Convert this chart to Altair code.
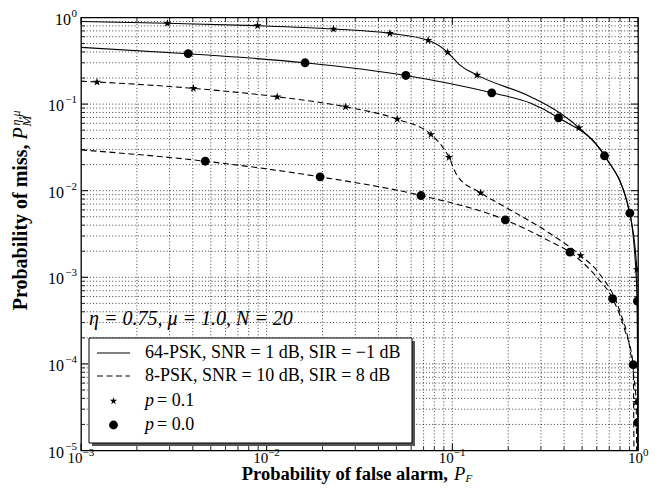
import altair as alt
import pandas as pd

# ---------------- data ----------------
# 64-PSK, SNR = 1 dB, SIR = -1 dB, p = 0.1 (solid line, stars)
s64_p1_line_x = [0.001, 0.00292, 0.00893, 0.0229, 0.0461, 0.0741, 0.0944, 0.11, 0.136, 0.265, 0.371, 0.481, 0.66, 0.90, 0.986, 0.995, 0.998]
s64_p1_line_y = [0.90, 0.857, 0.804, 0.736, 0.656, 0.545, 0.396, 0.282, 0.216, 0.121, 0.0815, 0.0532, 0.0255, 0.0056, 0.00123, 0.0001, 0.00001]
s64_p1_mark_x = [0.00292, 0.00893, 0.0229, 0.0461, 0.0741, 0.0944, 0.136, 0.481, 0.986]
s64_p1_mark_y = [0.857, 0.804, 0.736, 0.656, 0.545, 0.396, 0.216, 0.0532, 0.00123]

# 64-PSK, p = 0.0 (solid line, circles)
s64_p0_line_x = [0.001, 0.00378, 0.0161, 0.0562, 0.163, 0.265, 0.373, 0.66, 0.904, 0.993, 0.998, 0.9985]
s64_p0_line_y = [0.452, 0.382, 0.300, 0.214, 0.135, 0.102, 0.0694, 0.0253, 0.0055, 0.00053, 0.000021, 0.00001]
s64_p0_mark_x = [0.00378, 0.0161, 0.0562, 0.163, 0.373, 0.66, 0.904, 0.993, 0.998]
s64_p0_mark_y = [0.382, 0.300, 0.214, 0.135, 0.0694, 0.0253, 0.0055, 0.00053, 0.000021]

# 8-PSK, SNR = 10 dB, SIR = 8 dB, p = 0.1 (dashed line, stars)
s8_p1_line_x = [0.001, 0.00122, 0.00403, 0.0114, 0.0266, 0.0505, 0.0767, 0.096, 0.106, 0.142, 0.197, 0.336, 0.491, 0.62, 0.80, 0.90, 0.95, 0.978, 0.983]
s8_p1_line_y = [0.184, 0.180, 0.152, 0.1215, 0.093, 0.067, 0.0446, 0.0242, 0.0150, 0.00944, 0.0063, 0.0032, 0.00178, 0.0011, 0.0004, 0.00016, 0.00007, 0.000036, 0.00001]
s8_p1_mark_x = [0.00122, 0.00403, 0.0114, 0.0266, 0.0505, 0.0767, 0.096, 0.142, 0.491, 0.978]
s8_p1_mark_y = [0.180, 0.152, 0.1215, 0.093, 0.067, 0.0446, 0.0242, 0.00944, 0.00178, 0.000036]

# 8-PSK, p = 0.0 (dashed line, circles)
s8_p0_line_x = [0.001, 0.00467, 0.0194, 0.0678, 0.193, 0.336, 0.43, 0.60, 0.73, 0.85, 0.942, 0.951]
s8_p0_line_y = [0.0296, 0.0219, 0.01445, 0.0088, 0.0046, 0.0026, 0.00195, 0.0010, 0.000567, 0.000244, 0.000098, 0.00001]
s8_p0_mark_x = [0.00467, 0.0194, 0.0678, 0.193, 0.43, 0.73, 0.942]
s8_p0_mark_y = [0.0219, 0.01445, 0.0088, 0.0046, 0.00195, 0.000567, 0.000098]

legend_labels = ["64-PSK, SNR = 1 dB, SIR = \u22121 dB", "8-PSK, SNR = 10 dB, SIR = 8 dB"]
marker_labels = ["= 0.1", "= 0.0"]
annotation = "\u03b7 = 0.75, \u03bc = 1.0, N = 20"

x_major = [0.001, 0.01, 0.1, 1.0]
x_exp = ["\u22123", "\u22122", "\u22121", "0"]
y_major = [1e-5, 1e-4, 1e-3, 1e-2, 1e-1, 1.0]
y_exp = ["\u22125", "\u22124", "\u22123", "\u22122", "\u22121", "0"]
x_minor = [k * 10.0 ** e for e in (-3, -2, -1) for k in range(2, 10)]
y_minor = [k * 10.0 ** e for e in (-5, -4, -3, -2, -1) for k in range(2, 10)]

# ---------------- layout ----------------
W, H = 557, 433
FONT = "Liberation Serif"
xs = alt.Scale(type="log", domain=[0.001, 1.0], nice=False)
ys = alt.Scale(type="log", domain=[1e-5, 1.0], nice=False)
STAR = "M0,-1L0.2245,-0.309L0.951,-0.309L0.363,0.118L0.588,0.809L0,0.382L-0.588,0.809L-0.363,0.118L-0.951,-0.309L-0.2245,-0.309Z"


def curve_df(name, xv, yv):
    return pd.DataFrame({"x": xv, "y": yv, "curve": name, "i": range(len(xv))})


solid_df = pd.concat([curve_df("a", s64_p1_line_x, s64_p1_line_y), curve_df("b", s64_p0_line_x, s64_p0_line_y)])
dashed_df = pd.concat([curve_df("c", s8_p1_line_x, s8_p1_line_y), curve_df("d", s8_p0_line_x, s8_p0_line_y)])
stars_df = pd.concat([curve_df("a", s64_p1_mark_x, s64_p1_mark_y), curve_df("c", s8_p1_mark_x, s8_p1_mark_y)])
circles_df = pd.concat([curve_df("b", s64_p0_mark_x, s64_p0_mark_y), curve_df("d", s8_p0_mark_x, s8_p0_mark_y)])

X = lambda f="x": alt.X(f"{f}:Q", scale=xs, axis=None)
Y = lambda f="y": alt.Y(f"{f}:Q", scale=ys, axis=None)

layers = []

# grid (dotted, major + minor)
gx = pd.DataFrame({"v": x_major[1:-1] + x_minor})
gy = pd.DataFrame({"v": y_major[1:-1] + y_minor})
layers.append(alt.Chart(gx).mark_rule(color="black", strokeWidth=0.75, strokeDash=[1, 2.2]).encode(x=X("v")))
layers.append(alt.Chart(gy).mark_rule(color="black", strokeWidth=0.75, strokeDash=[1, 2.2]).encode(y=Y("v")))

# inward ticks on all four sides
for vals, L, sw in ((x_major, 7, 1.0), (x_minor, 4, 0.8)):
    d = pd.DataFrame({"v": vals})
    layers.append(alt.Chart(d).mark_rule(color="black", strokeWidth=sw).encode(x=X("v"), y=alt.value(H), y2=alt.value(H - L)))
    layers.append(alt.Chart(d).mark_rule(color="black", strokeWidth=sw).encode(x=X("v"), y=alt.value(0), y2=alt.value(L)))
for vals, L, sw in ((y_major, 7, 1.0), (y_minor, 4, 0.8)):
    d = pd.DataFrame({"v": vals})
    layers.append(alt.Chart(d).mark_rule(color="black", strokeWidth=sw).encode(y=Y("v"), x=alt.value(0), x2=alt.value(L)))
    layers.append(alt.Chart(d).mark_rule(color="black", strokeWidth=sw).encode(y=Y("v"), x=alt.value(W), x2=alt.value(W - L)))

# curves
layers.append(alt.Chart(solid_df).mark_line(color="black", strokeWidth=1.1, interpolate="monotone", clip=True)
              .encode(x=X(), y=Y(), detail="curve:N", order="i:Q"))
layers.append(alt.Chart(dashed_df).mark_line(color="black", strokeWidth=1.1, strokeDash=[6, 3.5], interpolate="monotone", clip=True)
              .encode(x=X(), y=Y(), detail="curve:N", order="i:Q"))
layers.append(alt.Chart(stars_df).mark_point(shape=STAR, filled=True, color="black", size=75, opacity=1, clip=True)
              .encode(x=X(), y=Y()))
layers.append(alt.Chart(circles_df).mark_circle(color="black", size=78, opacity=1, clip=True)
              .encode(x=X(), y=Y()))

# tick labels: "10" with superscript exponent
xl = pd.DataFrame({"v": x_major, "sup": x_exp})
for flt, dxb in (("datum.sup != '0'", 1.5), ("datum.sup == '0'", 5)):
    layers.append(alt.Chart(xl).transform_filter(flt).transform_calculate(b="'10'").mark_text(font=FONT, fontSize=15, align="right", baseline="middle", dx=dxb)
                  .encode(x=X("v"), y=alt.value(H + 7.5), text=alt.Text("b:N")))
    layers.append(alt.Chart(xl).transform_filter(flt).mark_text(font=FONT, fontSize=11, align="left", baseline="middle", dx=dxb)
                  .encode(x=X("v"), y=alt.value(H + 2.5), text="sup:N"))
yl = pd.DataFrame({"v": y_major, "sup": y_exp})
for flt, xb in (("datum.sup != '0'", -17), ("datum.sup == '0'", -10)):
    layers.append(alt.Chart(yl).transform_filter(flt).transform_calculate(b="'10'").mark_text(font=FONT, fontSize=16, align="right", baseline="middle", dy=2)
                  .encode(y=Y("v"), x=alt.value(xb), text=alt.Text("b:N")))
layers.append(alt.Chart(yl).mark_text(font=FONT, fontSize=11, align="right", baseline="middle", dy=-4)
              .encode(y=Y("v"), x=alt.value(-4), text="sup:N"))

one = pd.DataFrame({"k": [0]})


def txt(s, x, y, size=18, **kw):
    return alt.Chart(one).mark_text(font=FONT, fontSize=size, **kw).encode(x=alt.value(x), y=alt.value(y), text=alt.value(s))


# axis titles
layers.append(txt("Probability of false alarm,", 367, 462.5, size=18.5, fontWeight="bold", align="right", baseline="alphabetic"))
layers.append(txt("P", 373, 462.5, size=18.5, fontStyle="italic", align="left", baseline="alphabetic"))
layers.append(txt("F", 384.5, 464.5, size=11, fontStyle="italic", align="left", baseline="alphabetic"))
layers.append(txt("Probability of miss,", -54, 127, size=20, fontWeight="bold", align="right", baseline="alphabetic", angle=270))
layers.append(txt("P", -54, 122, size=20, fontStyle="italic", align="left", baseline="alphabetic", angle=270))
layers.append(txt("M", -50, 109, size=13, fontStyle="italic", align="left", baseline="alphabetic", angle=270))
layers.append(txt("\u03b7,\u03bc", -61, 108, size=12, fontStyle="italic", align="left", baseline="alphabetic", angle=270))

# annotation
layers.append(txt(annotation, 8, 301.5, size=20, fontStyle="italic", align="left", baseline="middle"))

# legend box with shadow
layers.append(alt.Chart(one).mark_rect(color="#555555").encode(x=alt.value(11), x2=alt.value(334), y=alt.value(323.5), y2=alt.value(428.5)))
layers.append(alt.Chart(one).mark_rect(fill="white", stroke="black", strokeWidth=1).encode(x=alt.value(8), x2=alt.value(331), y=alt.value(320.5), y2=alt.value(425.5)))
layers.append(alt.Chart(one).mark_rule(color="black", strokeWidth=1.1).encode(x=alt.value(16), x2=alt.value(49), y=alt.value(335.5)))
layers.append(alt.Chart(one).mark_rule(color="black", strokeWidth=1.1, strokeDash=[6, 3.5]).encode(x=alt.value(16), x2=alt.value(49), y=alt.value(358.5)))
layers.append(alt.Chart(one).mark_point(shape=STAR, filled=True, color="black", size=60, opacity=1).encode(x=alt.value(32.5), y=alt.value(383.5)))
layers.append(alt.Chart(one).mark_circle(color="black", size=78, opacity=1).encode(x=alt.value(32.5), y=alt.value(407.5)))
layers.append(txt(legend_labels[0], 64, 335.5, align="left", baseline="middle"))
layers.append(txt(legend_labels[1], 64, 358.5, align="left", baseline="middle"))
layers.append(txt("p", 64, 383.5, fontStyle="italic", align="left", baseline="middle"))
layers.append(txt(marker_labels[0], 76, 383.5, align="left", baseline="middle"))
layers.append(txt("p", 64, 407.5, fontStyle="italic", align="left", baseline="middle"))
layers.append(txt(marker_labels[1], 76, 407.5, align="left", baseline="middle"))

chart = alt.layer(*layers).properties(
    width=W, height=H,
    autosize=alt.AutoSizeParams(type="none"),
    padding={"left": 73, "top": 9.5, "right": 16, "bottom": 33.5},
    background="white",
).configure_view(stroke="black", strokeWidth=1.3)

chart.save("out.html", embed_options={"renderer": "svg", "actions": False})
